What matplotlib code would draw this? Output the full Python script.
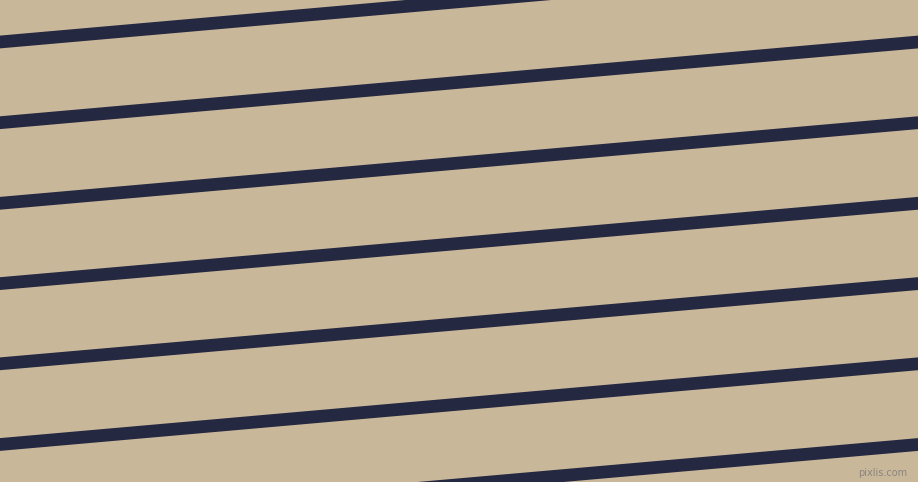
import numpy as np
import matplotlib.pyplot as plt

# stripe centre heights at the left and right edges (pixels from top)
left_y = [42, 122.7, 203.3, 283.6, 363.8, 444.5, 525]
right_y = [-38.6, 42, 122.7, 203.3, 283.6, 363.8, 444.5]
x_ends = [0, 918]
stripe_height = 12.8

bg_color = '#C9B79A'
line_color = '#252841'

fig = plt.figure(figsize=(9.18, 4.82), dpi=100)
ax = fig.add_axes([0, 0, 1, 1])
ax.set_facecolor(bg_color)
fig.patch.set_facecolor(bg_color)

# filled bands instead of thick lines so the ends are not cut off at the border
half = stripe_height / 2
for y0, y1 in zip(left_y, right_y):
    yc = np.array([y0, y1])
    ax.fill_between(x_ends, yc - half, yc + half, color=line_color, linewidth=0)

ax.set_xlim(0, 918)
ax.set_ylim(482, 0)
ax.axis('off')

ax.text(907, 478, 'pixlis.com', color='#8a857d', fontsize=7, ha='right', va='bottom')

fig.savefig('out.png', dpi=100, facecolor=bg_color)
